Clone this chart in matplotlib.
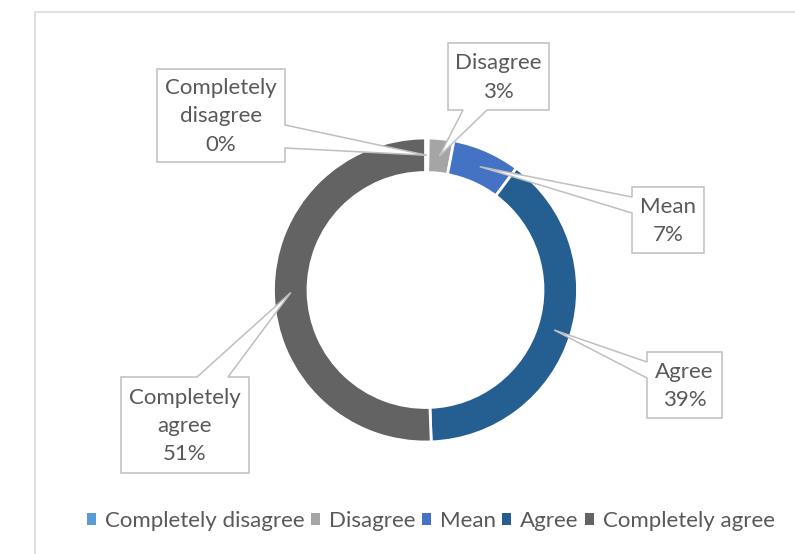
import numpy as np
import matplotlib
matplotlib.use("Agg")
import matplotlib.pyplot as plt
from matplotlib.patches import Polygon, Patch
from matplotlib.lines import Line2D

# ---- data ----
categories = ["Completely disagree", "Disagree", "Mean", "Agree", "Completely agree"]
values = [0.3, 2.7, 7.2, 39.2, 50.6]
label_lines = ["Completely\ndisagree", "Disagree", "Mean", "Agree", "Completely\nagree"]
colors = ["#5B9BD5", "#A5A5A5", "#4472C4", "#255E91", "#636363"]

W, H = 795, 554
FONT = ["Lato", "DejaVu Sans"]
TXT = "#595959"
EDGE = "#BFBFBF"

fig = plt.figure(figsize=(W / 100, H / 100), dpi=100)
ax = fig.add_axes([0, 0, 1, 1])

def py(y):
    return H - y

cx, cy, R, width = 425.5, 290.0, 152.0, 0.227
ax.pie(values, colors=colors, startangle=90, counterclock=False,
       center=(cx, py(cy)), radius=R,
       wedgeprops=dict(width=R * width, edgecolor="white", linewidth=2))
ax.set_xlim(0, W)
ax.set_ylim(0, H)
ax.set_aspect("equal")
ax.axis("off")

# leader targets: middle of each ring segment
total = sum(values)
cum = np.cumsum([0] + values[:-1])
mid_frac = (cum + np.array(values) / 2) / total
rmid = R * (1 - width / 2)
targets = [(cx + rmid * np.sin(2 * np.pi * f), cy - rmid * np.cos(2 * np.pi * f)) for f in mid_frac]

# callout boxes (pixel coords, y down): (x0, y0, x1, y1, side, a, b)
boxes = [
    (157, 69, 285, 162, "right", 125, 148),
    (448, 43, 549, 110, "bottom", 463, 487),
    (632, 187, 704, 253, "left", 197, 213),
    (647, 352, 722, 418, "left", 362, 378),
    (121, 377, 249, 473, "top", 197, 228),
]

for i, (x0, y0, x1, y1, side, a, b) in enumerate(boxes):
    tx, ty = targets[i]
    if side == "right":
        pts = [(x0, y0), (x1, y0), (x1, a), (tx, ty), (x1, b), (x1, y1), (x0, y1)]
    elif side == "bottom":
        pts = [(x0, y0), (x1, y0), (x1, y1), (b, y1), (tx, ty), (a, y1), (x0, y1)]
    elif side == "left":
        pts = [(x0, y0), (x1, y0), (x1, y1), (x0, y1), (x0, b), (tx, ty), (x0, a)]
    else:  # top
        pts = [(x0, y0), (a, y0), (tx, ty), (b, y0), (x1, y0), (x1, y1), (x0, y1)]
    poly = Polygon([(x, py(y)) for x, y in pts], closed=True, facecolor="white",
                   edgecolor=EDGE, linewidth=1.1, zorder=5)
    ax.add_patch(poly)
    pct = f"{round(values[i] / total * 100):d}%"
    ax.text((x0 + x1) / 2, py((y0 + y1) / 2 + 1), f"{label_lines[i]}\n{pct}",
            ha="center", va="center", color=TXT, fontsize=16, family=FONT,
            linespacing=1.52, zorder=6)

# chart border
fig.add_artist(Line2D([35 / W, 35 / W, 1], [0, py(12) / H, py(12) / H],
                      transform=fig.transFigure, color="#D9D9D9", linewidth=1.2))

handles = [Patch(facecolor=c, edgecolor="none") for c in colors]
leg = fig.legend(handles, categories, loc="center", bbox_to_anchor=(431 / W, py(521) / H),
                 ncol=5, frameon=False, handlelength=0.4, handleheight=0.4,
                 handletextpad=0.4, columnspacing=0.3, borderaxespad=0,
                 prop=dict(family=FONT, size=16))
for t in leg.get_texts():
    t.set_color(TXT)

fig.savefig("out.png", dpi=100, facecolor="white")
